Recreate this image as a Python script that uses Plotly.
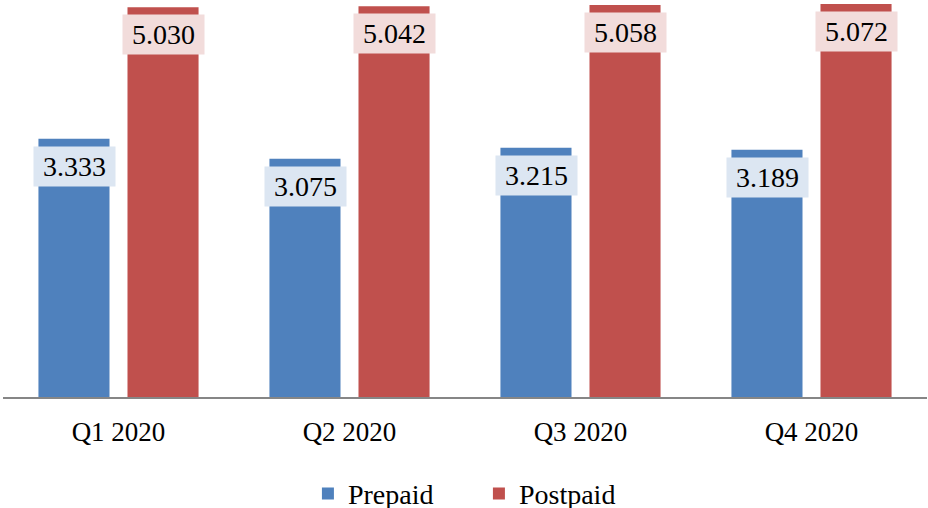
import plotly.graph_objects as go

quarters = ["Q1 2020", "Q2 2020", "Q3 2020", "Q4 2020"]
prepaid = [3.333, 3.075, 3.215, 3.189]
postpaid = [5.030, 5.042, 5.058, 5.072]

FONT = "Liberation Serif"
BLUE, RED = "#4F81BD", "#C0504D"
BLUE_BG, RED_BG = "#DCE6F2", "#F2DCDB"

fig = go.Figure()
fig.add_trace(go.Bar(name="Prepaid", x=quarters, y=prepaid, marker_color=BLUE,
                     marker_line_width=0))
fig.add_trace(go.Bar(name="Postpaid", x=quarters, y=postpaid, marker_color=RED,
                     marker_line_width=0))

# value labels with filled boxes, sitting just below each bar top
for vals, shift, bg in [(prepaid, -44.5, BLUE_BG), (postpaid, 44.5, RED_BG)]:
    for q, v in zip(quarters, vals):
        fig.add_annotation(x=q, y=v, text=f"{v:.3f}", showarrow=False,
                           xshift=shift, yshift=-27.5, yanchor="middle",
                           bgcolor=bg, width=81, height=39, borderpad=0,
                           font=dict(family=FONT, size=28, color="black"))

fig.update_layout(
    width=928, height=508,
    margin=dict(l=3, r=1, t=0, b=111, autoexpand=False),
    paper_bgcolor="white", plot_bgcolor="white",
    barmode="group", bargap=0.229, bargroupgap=0.202,
    font=dict(family=FONT, color="black"),
    legend=dict(orientation="h", x=0.330, xanchor="left", y=-0.244, yanchor="middle",
                font=dict(size=28, family=FONT), entrywidth=126, traceorder="normal"),
    showlegend=True,
)
fig.update_xaxes(showline=True, linecolor="#868686", linewidth=1.5, ticks="",
                 tickfont=dict(size=27, family=FONT), ticklabelstandoff=10)
fig.update_yaxes(range=[0, 397 / 77.5], showgrid=False, showticklabels=False,
                 zeroline=False, showline=False)

# drop the browser's default 8px body margin so the figure fills the window
fig.write_html("out.html", config={"displayModeBar": False},
               post_script="document.body.style.margin='0';")
